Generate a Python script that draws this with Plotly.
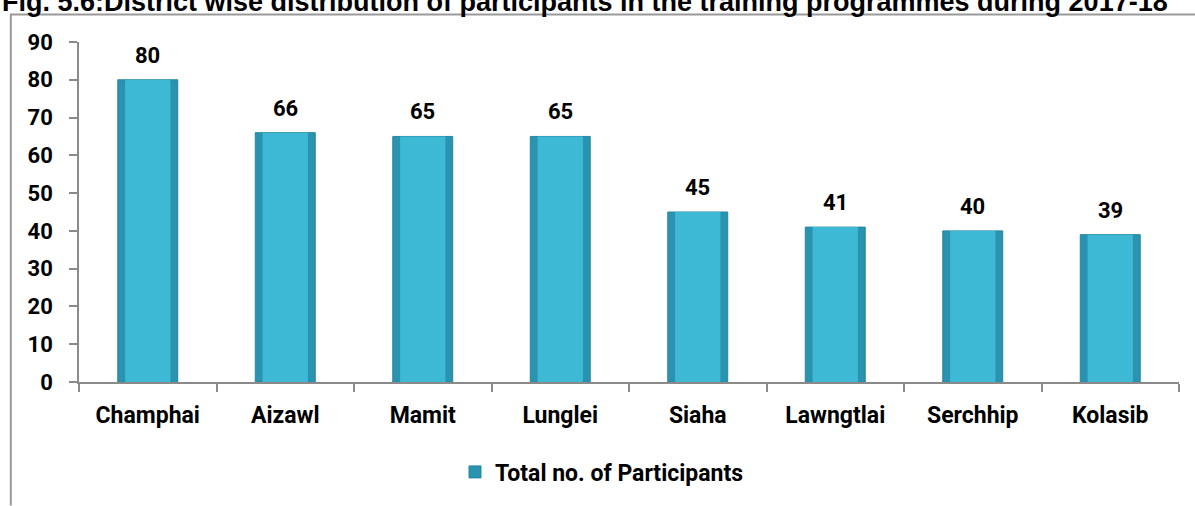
import plotly.graph_objects as go

districts = ["Champhai", "Aizawl", "Mamit", "Lunglei", "Siaha", "Lawngtlai", "Serchhip", "Kolasib"]
participants = [80, 66, 65, 65, 45, 41, 40, 39]
series_name = "Total no. of Participants"
title_text = "Fig. 5.6:District wise distribution of participants in the training programmes during 2017-18"

W, H = 1195, 506
L, R, T, B = 79, 16, 42, 120
pw, ph = W - L - R, H - T - B

def px_x(x):
    return (x - L) / pw

def px_y(y):
    return (H - B - y) / ph

font_fam = "Roboto, Liberation Sans, Arial"
axis_grey = "#8a8a8a"

fig = go.Figure()
# outer (darker edge) bar
fig.add_trace(go.Bar(
    x=districts, y=participants, name=series_name,
    marker=dict(color="#2A93AF", line=dict(color="#2586A0", width=1)),
    width=0.436, showlegend=True,
))
# inner (lighter face) bar
fig.add_trace(go.Bar(
    x=districts, y=participants, name=series_name,
    marker=dict(color="#3DB8D5", line=dict(width=0)),
    width=0.33, showlegend=False, hoverinfo="skip",
))

for d, v in zip(districts, participants):
    fig.add_annotation(x=d, y=v, text="<b>%d</b>" % v, showarrow=False,
                       yanchor="bottom", yshift=10,
                       font=dict(family=font_fam, size=22, color="black"))

fig.update_layout(
    width=W, height=H,
    margin=dict(l=L, r=R, t=T, b=B),
    paper_bgcolor="white", plot_bgcolor="white",
    barmode="overlay",
    showlegend=True,
    legend=dict(orientation="h", x=px_x(455), xanchor="left", y=px_y(477), yanchor="middle",
                font=dict(family=font_fam, size=23, color="black", weight="bold"),
                itemwidth=30),
    xaxis=dict(showline=True, linecolor=axis_grey, linewidth=1.5,
               ticks="outside", tickson="boundaries", ticklen=8, tickcolor=axis_grey, tickwidth=1.5,
               tickfont=dict(family=font_fam, size=23, color="black", weight="bold"),
               showgrid=False, ticklabelstandoff=12),
    yaxis=dict(range=[0, 90], dtick=10, showline=True, linecolor=axis_grey, linewidth=1.5,
               ticks="outside", ticklen=8, tickcolor=axis_grey, tickwidth=1.5,
               tickfont=dict(family=font_fam, size=22, color="black", weight="bold"),
               showgrid=False, zeroline=False, ticklabelstandoff=12),
)

# Outer frame (top and left edges visible)
fig.add_shape(type="line", xref="paper", yref="paper",
              x0=px_x(10), x1=px_x(W + 5), y0=px_y(14.2), y1=px_y(14.2),
              line=dict(color="#999999", width=2))
fig.add_shape(type="line", xref="paper", yref="paper",
              x0=px_x(10.8), x1=px_x(10.8), y0=px_y(14.2), y1=px_y(H + 5),
              line=dict(color="#999999", width=2))

# Title (partially cut at top, as in the source)
fig.add_annotation(text="<b>" + title_text + "</b>", xref="paper", yref="paper",
                   x=px_x(0), y=px_y(18.5), xanchor="left", yanchor="bottom",
                   showarrow=False, font=dict(family="Liberation Sans, Arial", size=27, color="black"))

fig.write_html("out.html", config={"displayModeBar": False},
               post_script="document.body.style.margin='0';")
